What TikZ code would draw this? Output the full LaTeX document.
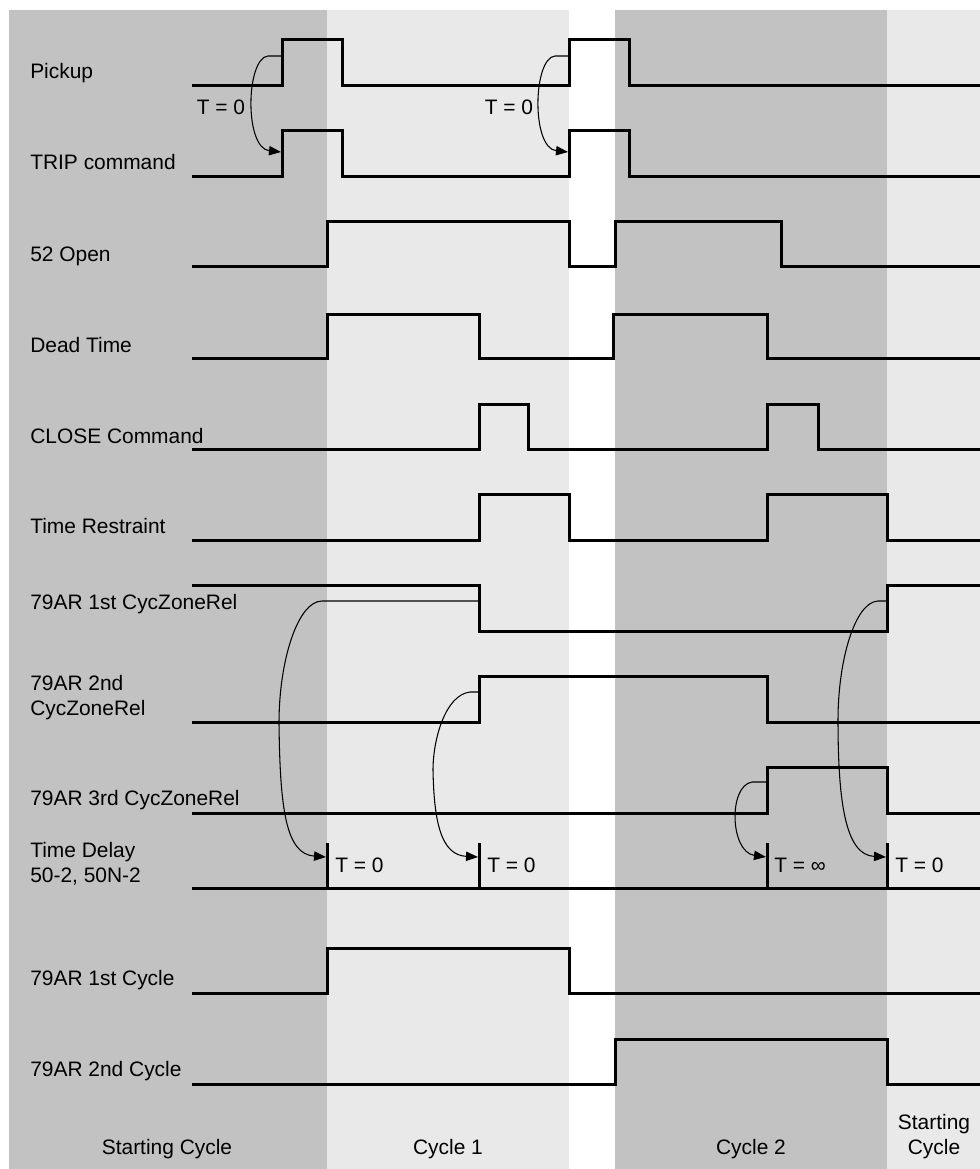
\documentclass[tikz,border=0pt]{standalone}
\usepackage{fontspec}
\setmainfont{Liberation Sans}
\usetikzlibrary{arrows.meta}
\definecolor{bandD}{RGB}{194,194,194}
\definecolor{bandL}{RGB}{233,233,233}
\begin{document}
\begin{tikzpicture}[x=0.75pt,y=-0.75pt,
  signal/.style={line width=2.25pt,line join=miter},
  tick/.style={line width=2.25pt},
  link/.style={line width=0.8pt,-{Triangle[length=9pt,width=7pt]}},
  lbl/.style={anchor=base west,inner sep=0pt,font=\fontsize{15.7}{18.75}\selectfont,align=left},
  tlbl/.style={anchor=base west,inner sep=0pt,font=\fontsize{15.7}{18.75}\selectfont},
  clbl/.style={anchor=base,inner sep=0pt,font=\fontsize{15.7}{18.75}\selectfont,align=center}]
\useasboundingbox (0,0) rectangle (980,1169);
% bands
\fill[bandD] (9,10) rectangle (327,1169);
\fill[bandL] (327,10) rectangle (569,1169);
\fill[bandD] (615,10) rectangle (887,1169);
\fill[bandL] (887,10) rectangle (980,1169);
% labels
\node[lbl] (lpick) at (30,79) {Pickup};
\node[lbl] (ltrip) at (30,170) {TRIP command};
\node[lbl] (lopen) at (30,262) {52 Open};
\node[lbl] (ldead) at (30,352) {Dead Time};
\node[lbl] (lclose) at (30,443) {CLOSE Command};
\node[lbl] (lres) at (30,533) {Time Restraint};
\node[lbl] (lz1) at (30,609) {79AR 1st CycZoneRel};
\node[lbl] (lz2) at (30,715) {79AR 2nd\\CycZoneRel};
\node[lbl] (lz3) at (30,805) {79AR 3rd CycZoneRel};
\node[lbl] (ltd) at (30,882) {Time Delay\\50-2, 50N-2};
\node[lbl] (lc1) at (30,985) {79AR 1st Cycle};
\node[lbl] (lc2) at (30,1076) {79AR 2nd Cycle};
% signals
\draw[signal] (192,86) -- (282,86) -- (282,40) -- (342,40) -- (342,86) -- (569,86) -- (569,40) -- (629,40) -- (629,86) -- (980,86);
\draw[signal] (192,177) -- (282,177) -- (282,131) -- (342,131) -- (342,177) -- (569,177) -- (569,131) -- (629,131) -- (629,177) -- (980,177);
\draw[signal] (192,267) -- (327,267) -- (327,222) -- (569,222) -- (569,267) -- (615,267) -- (615,222) -- (781,222) -- (781,267) -- (980,267);
\draw[signal] (192,358) -- (327,358) -- (327,314) -- (479,314) -- (479,358) -- (613,358) -- (613,314) -- (767,314) -- (767,358) -- (980,358);
\draw[signal] (192,449) -- (479,449) -- (479,404) -- (528,404) -- (528,449) -- (767,449) -- (767,404) -- (818,404) -- (818,449) -- (980,449);
\draw[signal] (192,540) -- (479,540) -- (479,494) -- (569,494) -- (569,540) -- (767,540) -- (767,494) -- (887,494) -- (887,540) -- (980,540);
\draw[signal] (192,585) -- (479,585) -- (479,631) -- (887,631) -- (887,585) -- (980,585);
\draw[signal] (192,722) -- (479,722) -- (479,676) -- (767,676) -- (767,722) -- (980,722);
\draw[signal] (192,813) -- (767,813) -- (767,767) -- (887,767) -- (887,813) -- (980,813);
\draw[signal] (192,888) -- (980,888);
\draw[tick] (327,843) -- (327,888);
\draw[tick] (479,843) -- (479,888);
\draw[tick] (767,843) -- (767,888);
\draw[tick] (887,843) -- (887,888);
\draw[signal] (192,993) -- (327,993) -- (327,948) -- (569,948) -- (569,993) -- (980,993);
\draw[signal] (192,1084) -- (615,1084) -- (615,1039) -- (887,1039) -- (887,1084) -- (980,1084);
% connector end points
\coordinate (p1) at (281,56);
\coordinate (t1) at (281,152);
\coordinate (p2) at (568,56);
\coordinate (t2) at (568,152);
\coordinate (z1a) at (478,601);
\coordinate (d1) at (326,857);
\coordinate (z2a) at (478,692);
\coordinate (d2) at (478,857);
\coordinate (z3a) at (766,782);
\coordinate (d3) at (766,857);
\coordinate (z1b) at (886,601);
\coordinate (d4) at (886,857);
% connectors
\draw[link] (p1) -- (268,56) .. controls (246,58) and (244,148) .. (t1);
\draw[link] (p2) -- (555,56) .. controls (533,58) and (531,148) .. (t2);
\draw[link] (z1a) -- (322,601) .. controls (298,601) and (279,660) .. (279,723) .. controls (280,810) and (286,854) .. (d1);
\draw[link] (z2a) -- (470,692) .. controls (445,695) and (433,740) .. (433,770) .. controls (434,822) and (441,855) .. (d2);
\draw[link] (z3a) -- (752,782) .. controls (728,786) and (730,852) .. (d3);
\draw[link] (z1b) -- (878,601) .. controls (855,602) and (838,660) .. (838,720) .. controls (838,805) and (846,855) .. (d4);
% T labels
\node[clbl] (tp1) at (221,115) {T = 0};
\node[clbl] (tp2) at (509,115) {T = 0};
\node[tlbl] (td1) at (335,872) {T = 0};
\node[tlbl] (td2) at (487,872) {T = 0};
\node[tlbl] (td3) at (774,872) {T = ∞};
\node[tlbl] (td4) at (895,872) {T = 0};
% cycle labels
\node[clbl] (cs) at (167,1154) {Starting Cycle};
\node[clbl] (cy1) at (448,1154) {Cycle 1};
\node[clbl] (cy2) at (751,1154) {Cycle 2};
\node[clbl] (cs2) at (934,1154) {Starting\\Cycle};
\end{tikzpicture}
\end{document}
